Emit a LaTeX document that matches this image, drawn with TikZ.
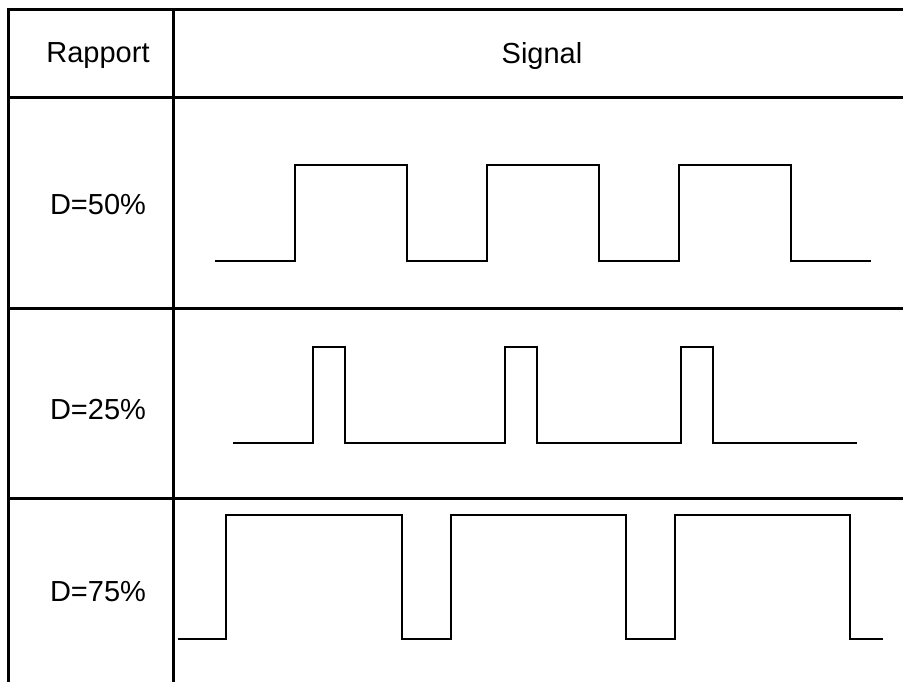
\documentclass[tikz,border=0pt]{standalone}
\usepackage{fontspec}
\setmainfont{Liberation Sans}
\begin{document}
\begin{tikzpicture}[x=1pt,y=-1pt,
  gridline/.style={line width=3pt,line cap=rect},
  wave/.style={line width=2pt,line join=miter},
  celltext/.style={font=\fontsize{29}{35}\selectfont,inner sep=0pt,anchor=center}]
\useasboundingbox (0,0) rectangle (903,682);
% table grid
\draw[gridline] (8,10) -- (910,10);
\draw[gridline] (8,98) -- (910,98);
\draw[gridline] (8,308) -- (910,308);
\draw[gridline] (8,498) -- (910,498);
\draw[gridline] (8,10) -- (8,690);
\draw[gridline] (173,10) -- (173,690);
% texts
\node[celltext] (hrap) at (98,56) {Rapport};
\node[celltext] (hsig) at (542,56) {Signal};
\node[celltext] (d50) at (98,205) {D=50\%};
\node[celltext] (d25) at (98,410) {D=25\%};
\node[celltext] (d75) at (98,592) {D=75\%};
% waveforms
\draw[wave] (215,261) -- (295,261) -- (295,165) -- (407,165) -- (407,261) -- (487,261) -- (487,165) -- (599,165) -- (599,261) -- (679,261) -- (679,165) -- (791,165) -- (791,261) -- (871,261);
\draw[wave] (233,443) -- (313,443) -- (313,347) -- (345,347) -- (345,443) -- (505,443) -- (505,347) -- (537,347) -- (537,443) -- (681,443) -- (681,347) -- (713,347) -- (713,443) -- (857,443);
\draw[wave] (178,639) -- (226,639) -- (226,515) -- (402,515) -- (402,639) -- (451,639) -- (451,515) -- (626,515) -- (626,639) -- (675,639) -- (675,515) -- (850,515) -- (850,639) -- (883,639);
\end{tikzpicture}
\end{document}
